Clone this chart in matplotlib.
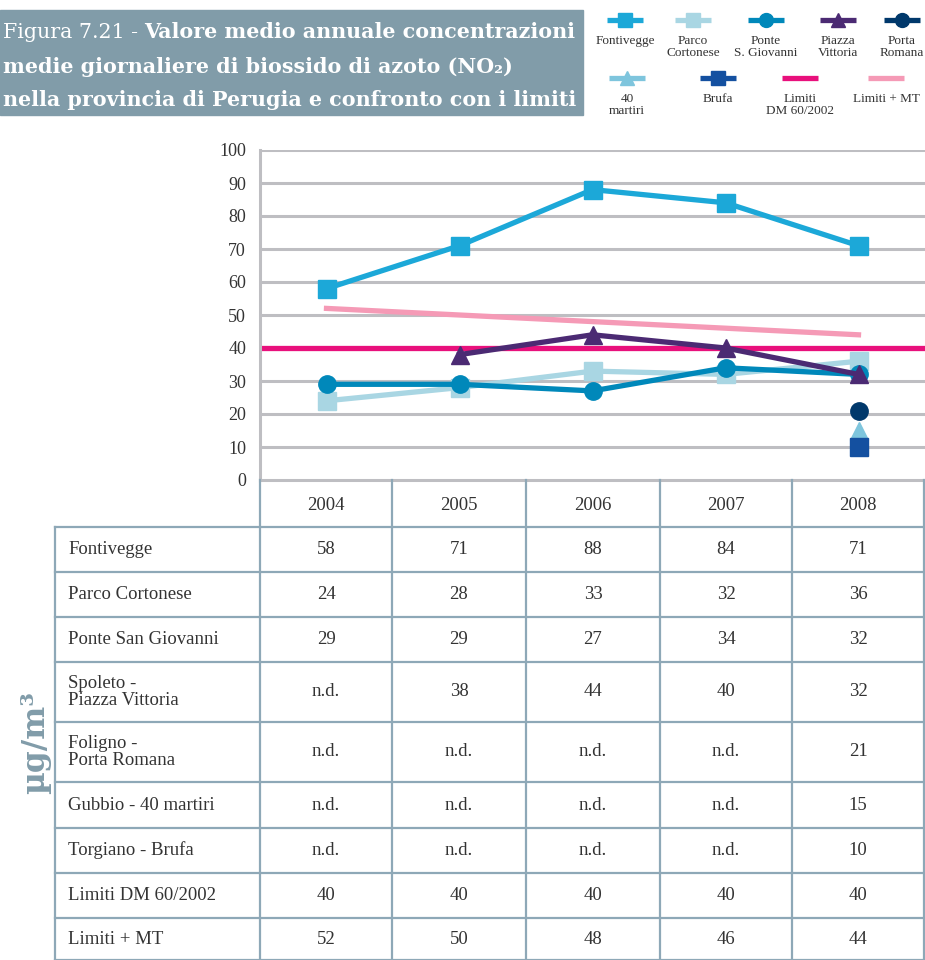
import numpy as np
import matplotlib
matplotlib.use('Agg')
import matplotlib.pyplot as plt
from matplotlib.patches import Rectangle

nan = np.nan

years = ['2004', '2005', '2006', '2007', '2008']
fontivegge = [58, 71, 88, 84, 71]
parco_cortonese = [24, 28, 33, 32, 36]
ponte_s_giovanni = [29, 29, 27, 34, 32]
piazza_vittoria = [nan, 38, 44, 40, 32]
porta_romana = [nan, nan, nan, nan, 21]
quaranta_martiri = [nan, nan, nan, nan, 15]
brufa = [nan, nan, nan, nan, 10]
limiti_dm = [40, 40, 40, 40, 40]
limiti_mt = [52, 50, 48, 46, 44]

table_labels = ['Fontivegge', 'Parco Cortonese', 'Ponte San Giovanni',
                'Spoleto -\nPiazza Vittoria', 'Foligno -\nPorta Romana',
                'Gubbio - 40 martiri', 'Torgiano - Brufa',
                'Limiti DM 60/2002', 'Limiti + MT']
table_series = [fontivegge, parco_cortonese, ponte_s_giovanni, piazza_vittoria,
                porta_romana, quaranta_martiri, brufa, limiti_dm, limiti_mt]

legend_labels = ['Fontivegge', 'Parco\nCortonese', 'Ponte\nS. Giovanni',
                 'Piazza\nVittoria', 'Porta\nRomana', '40\nmartiri', 'Brufa',
                 'Limiti\nDM 60/2002', 'Limiti + MT']

colors = ['#1ca8d8', '#a9d6e3', '#0088ba', '#4b2a73', '#00386b',
          '#7ec5dd', '#1450a0', '#e8107c', '#f59ab6']
markers = ['s', 's', 'o', '^', 'o', '^', 's', None, None]

serif = ['Liberation Serif', 'DejaVu Serif']
txt = '#333333'
grid_c = '#bebec2'
tab_c = '#8ea8b7'
title_bg = '#819ca9'

W, H = 925, 960
fig = plt.figure(figsize=(W / 100, H / 100), dpi=100)

# chart
ax = fig.add_axes([260 / W, 1 - 480 / H, 665 / W, 330 / H])
x = np.arange(len(years))
ax.set_xlim(-0.5, len(years) - 0.5)
ax.set_ylim(0, 100)
ax.set_yticks(np.arange(0, 101, 10))
ax.set_xticks([])
for v in np.arange(10, 101, 10):
    ax.axhline(v, color=grid_c, lw=2.2, zorder=1)
for s in ['top', 'right']:
    ax.spines[s].set_visible(False)
for s in ['left', 'bottom']:
    ax.spines[s].set_color(grid_c)
    ax.spines[s].set_linewidth(2.2)
ax.tick_params(axis='y', length=0, pad=10, labelsize=13, labelcolor=txt)
for lab in ax.get_yticklabels():
    lab.set_family(serif)

ax.axhline(limiti_dm[0], color=colors[7], lw=3.8, zorder=2)
ax.plot(x, limiti_mt, color=colors[8], lw=3.8, zorder=2)
series = [fontivegge, parco_cortonese, ponte_s_giovanni, piazza_vittoria,
          porta_romana, quaranta_martiri, brufa]
for i, ys in enumerate(series):
    ax.plot(x, ys, color=colors[i], lw=3.8, marker=markers[i],
            ms=13 if markers[i] != 'o' else 12.5, zorder=3 + i)

# overlay in pixel coordinates
ov = fig.add_axes([0, 0, 1, 1])
ov.set_xlim(0, W)
ov.set_ylim(H, 0)
ov.axis('off')
ov.patch.set_alpha(0)

# title box
fs_t = 14.9
ov.add_patch(Rectangle((0, 10), 583, 105, color=title_bg, zorder=1))
t1 = ov.text(3, 33, 'Figura 7.21 - ', color='white', fontsize=fs_t,
             family='DejaVu Serif', va='center', zorder=2)
ov.annotate('Valore medio annuale concentrazioni', xy=(1, 0), xycoords=t1,
            va='bottom', color='white', fontsize=fs_t, family='DejaVu Serif',
            fontweight='bold', zorder=2)
ov.text(3, 67, 'medie giornaliere di biossido di azoto (NO\u2082)', color='white',
        fontsize=fs_t, family='DejaVu Serif', fontweight='bold', va='center')
ov.text(3, 100, 'nella provincia di Perugia e confronto con i limiti',
        color='white', fontsize=fs_t, family='DejaVu Serif',
        fontweight='bold', va='center')

# legend
leg_x = [625, 693, 766, 838, 902, 627, 718, 800, 886]
leg_y = [20] * 5 + [78] * 4
for i, lab in enumerate(legend_labels):
    cx, cy = leg_x[i], leg_y[i]
    ov.plot([cx - 18, cx + 18], [cy, cy], color=colors[i], lw=3.8,
            solid_capstyle='butt')
    if markers[i]:
        ov.plot(cx, cy, marker=markers[i], color=colors[i], ms=10)
    ov.text(cx, cy + 15, lab, ha='center', va='top', fontsize=9.5,
            family=serif, color=txt, linespacing=0.95)

# table
rows = [527, 572, 617, 662, 722, 782, 828, 873, 918, 960]
cols = [260, 392, 526, 660, 792, 924]
for c in cols:
    ov.plot([c, c], [480, H], color=tab_c, lw=1.6)
ov.plot([55, 55], [rows[0], H], color=tab_c, lw=1.6)
for r in rows:
    ov.plot([55, 924], [r, r], color=tab_c, lw=1.6)
for j, yr in enumerate(years):
    ov.text((cols[j] + cols[j + 1]) / 2, (480 + rows[0]) / 2 + 2, yr,
            ha='center', va='center', fontsize=13.5, family=serif, color=txt)
for i, lab in enumerate(table_labels):
    cy = (rows[i] + rows[i + 1]) / 2
    ov.text(68, cy, lab, ha='left', va='center', fontsize=13.5,
            family=serif, color=txt, linespacing=1.0)
    for j, v in enumerate(table_series[i]):
        s = 'n.d.' if np.isnan(v) else str(int(v))
        ov.text((cols[j] + cols[j + 1]) / 2, cy, s, ha='center', va='center',
                fontsize=13.5, family=serif, color=txt)

# unit label
ov.text(36, 742, '\u00b5g/m\u00b3', rotation=90, ha='center', va='center',
        fontsize=22.5, fontweight='bold', family='DejaVu Serif', color=title_bg)

fig.savefig('out.png', dpi=100)
